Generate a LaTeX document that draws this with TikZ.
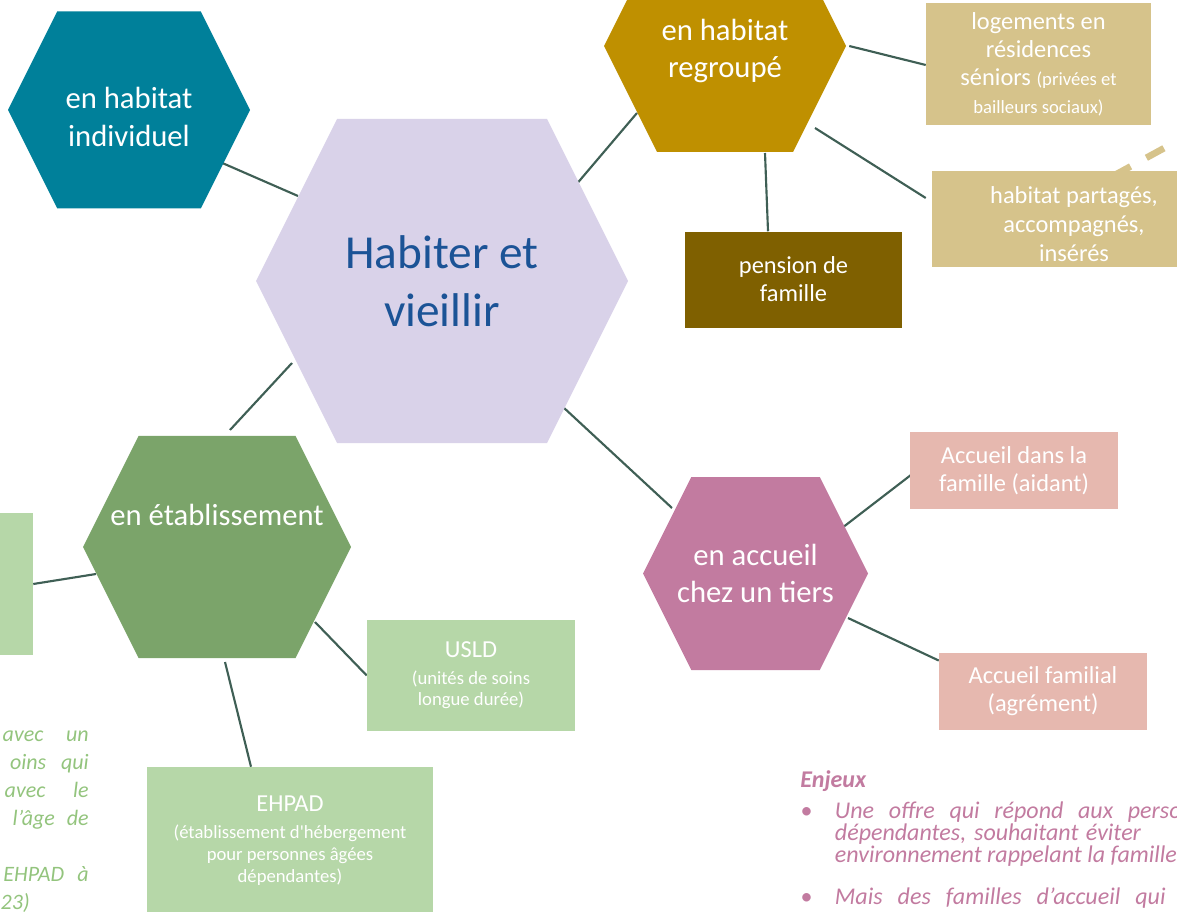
\documentclass[tikz,border=0pt]{standalone}
\usepackage{fontspec}
\setmainfont{Carlito}
\usepackage{xcolor}
\usepackage{tikz}
\usetikzlibrary{positioning, calc, backgrounds}

\definecolor{tealhex}{HTML}{00809A}
\definecolor{lavender}{HTML}{D9D2E9}
\definecolor{titleblue}{HTML}{1B5396}
\definecolor{goldhex}{HTML}{BF9000}
\definecolor{tanbox}{HTML}{D6C38B}
\definecolor{olivebox}{HTML}{7F6000}
\definecolor{greenhex}{HTML}{7BA46A}
\definecolor{greenbox}{HTML}{B6D7A8}
\definecolor{pinkhex}{HTML}{C27BA0}
\definecolor{pinkbox}{HTML}{E6B8AF}
\definecolor{linkcol}{HTML}{3F5F55}
\definecolor{notegreen}{HTML}{93C47D}

\begin{document}
\begin{tikzpicture}[x=0.75pt, y=-0.75pt,
    hexa/.style={inner sep=0pt, align=center, text=white, font=\fontsize{23}{28}\selectfont,
      path picture={\fill[#1] let \p1=(path picture bounding box.south west),
        \p2=(path picture bounding box.north east), \n1={(\y2-\y1)/4} in
        (\x1,{(\y1+\y2)/2}) -- (\x1+\n1,\y1) -- (\x2-\n1,\y1) -- (\x2,{(\y1+\y2)/2})
        -- (\x2-\n1,\y2) -- (\x1+\n1,\y2) -- cycle;}},
    hexlabel/.style={text=white, align=center, font=\fontsize{23}{28}\selectfont},
    box/.style={rectangle, fill=#1, inner sep=0pt, align=center, text=white, font=\fontsize{18.3}{21}\selectfont},
    boxlabel/.style={text=white, align=center, font=\fontsize{18.3}{22}\selectfont},
    subbox/.style={font=\fontsize{14}{#1}\selectfont},
    link/.style={draw=linkcol, line width=1.6pt},
    note/.style={inner sep=0pt, font=\fontsize{16.5}{21}\selectfont\itshape}]

    \useasboundingbox (0,0) rectangle (1177,912);

    % hexagons
    \node[hexa=lavender, minimum width=279pt, minimum height=243pt, text=titleblue,
          font=\fontsize{35.5}{43.5}\selectfont] (hab) at (442,281) {Habiter et\\vieillir};
    \node[hexa=tealhex, minimum width=181.5pt, minimum height=147.75pt,
          label={[hexlabel, yshift=-5.25pt]center:en habitat\\individuel}] (ind) at (129,110) {};
    \node[hexa=goldhex, minimum width=181.5pt, minimum height=159pt,
          label={[hexlabel, yshift=-3.5pt]center:en habitat\\regroup\'e}] (grp) at (725,46) {};
    \node[hexa=greenhex, minimum width=201pt, minimum height=166.5pt,
          label={[hexlabel, yshift=24pt]center:en \'etablissement}] (etab) at (217,547) {};
    \node[hexa=pinkhex, minimum width=168.75pt, minimum height=144.75pt] (tiers) at (755.5,573.5) {en accueil\\chez un tiers};

    % boxes
    \node[box=tanbox, minimum width=168.75pt, minimum height=91.5pt] (log) at (1038.5,64)
        {logements en\\r\'esidences\\s\'eniors {\fontsize{14}{21}\selectfont(priv\'ees et}\\{\fontsize{14}{21}\selectfont bailleurs sociaux)}};
    \node[box=tanbox, minimum width=213pt, minimum height=72pt,
          label={[boxlabel, yshift=-3.75pt]center:habitat partag\'es,\\accompagn\'es,\\ins\'er\'es}] (part) at (1074,219) {};
    \node[box=olivebox, minimum width=162.75pt, minimum height=72pt, below=59.25pt of grp, xshift=51.375pt] (pens)
        {pension de\\famille};
    \node[box=pinkbox, minimum width=156pt, minimum height=57.75pt] (fam) at (1014,470.5)
        {Accueil dans la\\famille (aidant)};
    \node[box=pinkbox, minimum width=156pt, minimum height=57.75pt, below=107.25pt of fam, xshift=21.75pt] (agr)
        {Accueil familial\\(agr\'ement)};
    \node[box=greenbox, subbox=15.75pt, minimum width=156pt, minimum height=83.25pt] (usld) at (471,675.5)
        {{\fontsize{18.3}{22}\selectfont USLD}\\[4.5pt](unit\'es de soins\\longue dur\'ee)};
    \node[box=greenbox, subbox=16.5pt, minimum width=214.5pt, minimum height=111pt] (ehpad) at (290,841)
        {{\fontsize{18.3}{22}\selectfont EHPAD}\\[3.75pt](\'etablissement d\textquotesingle h\'ebergement\\pour personnes \^ag\'ees\\d\'ependantes)};
    \node[box=greenbox, minimum width=184.5pt, minimum height=106.5pt] (lbox) at (-90,584) {};

    % connectors
    \begin{scope}[on background layer]
        \draw[link] ($(hab)+(-144,-85)$) -- ($(ind)+(91,52)$);
        \draw[link] ($(hab)+(133,-95)$) -- ($(grp)+(-88,67)$);
        \draw[link] ($(grp)+(40,107)$) -- ($(pens.north)+(-25.5,0)$);
        \draw[link] ($(grp.east)+(3,0)$) -- ($(log.west)+(0,1)$);
        \draw[link] ($(grp)+(90,82)$) -- ($(part.west)+(-6,-21)$);
        \draw[link] ($(hab)+(-150,82)$) -- ($(etab)+(13,-117)$);
        \draw[link] ($(hab)+(121,126)$) -- ($(tiers)+(-83.5,-65.5)$);
        \draw[link] ($(tiers)+(86.5,-45.5)$) -- ($(fam.west)+(7,0)$);
        \draw[link] ($(tiers)+(92.5,44.5)$) -- ($(agr.west)+(0,-30.5)$);
        \draw[link] (lbox.east) -- ($(etab)+(-121,27)$);
        \draw[link] ($(etab)+(98,75)$) -- (usld.west);
        \draw[link] ($(etab)+(8,115)$) -- ($(ehpad.north)+(-39,0)$);
        \draw[tanbox, line width=5pt, dash pattern=on 15pt off 13.5pt] (1113,176) -- (1168,146);
    \end{scope}

    % texts
    \node[note, text=notegreen, anchor=north east, align=right] (cut) at (89,731)
        {\makebox[64.5pt][s]{avec un}\\\makebox[59pt][s]{oins qui}\\\makebox[63pt][s]{avec le}\\
         \makebox[57pt][s]{l’\^age de}\\[21pt]\makebox[64pt][s]{EHPAD \`a}\\\makebox[66pt][l]{23)}};
    \node[note, text=pinkhex, anchor=north west, align=left, font=\fontsize{18}{16.5}\selectfont\itshape] (enjeux) at (800,770)
        {\textbf{Enjeux}\\[6.75pt]
         \makebox[26pt][l]{•}\makebox[260pt][s]{Une offre qui r\'epond aux perso}\\
         \hspace*{26pt}\makebox[229.5pt][s]{d\'ependantes, souhaitant \'eviter}\\
         \hspace*{26pt}environnement rappelant la famille\\[15pt]
         \makebox[26pt][l]{•}\makebox[248pt][s]{Mais des familles d’accueil qui}};
\end{tikzpicture}
\end{document}
